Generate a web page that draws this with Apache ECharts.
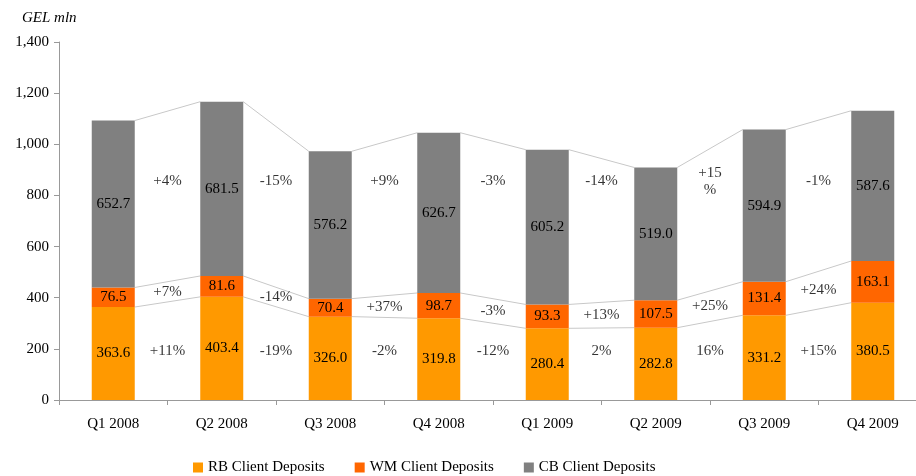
<!DOCTYPE html>
<html>
<head>
<meta charset="utf-8">
<script src="https://cdn.jsdelivr.net/npm/echarts@6/dist/echarts.min.js"></script>
<style>html,body{margin:0;padding:0;background:#fff;overflow:hidden;width:916px;height:476px}#c{width:930px;height:476px}</style>
</head>
<body>
<div id="c"></div>
<script>
const categories = ['Q1 2008','Q2 2008','Q3 2008','Q4 2008','Q1 2009','Q2 2009','Q3 2009','Q4 2009'];
const rb = [363.6, 403.4, 326.0, 319.8, 280.4, 282.8, 331.2, 380.5];
const wm = [76.5, 81.6, 70.4, 98.7, 93.3, 107.5, 131.4, 163.1];
const cb = [652.7, 681.5, 576.2, 626.7, 605.2, 519.0, 594.9, 587.6];
const rbChange = ['+11%','-19%','-2%','-12%','2%','16%','+15%'];
const wmChange = ['+7%','-14%','+37%','-3%','+13%','+25%','+24%'];
const cbChange = ['+4%','-15%','+9%','-3%','-14%','+15\n%','-1%'];
const seriesNames = ['RB Client Deposits','WM Client Deposits','CB Client Deposits'];
const unitLabel = 'GEL mln';

const FONT = '"Liberation Serif", "Times New Roman", serif';
const colors = ['#FF9900', '#FF6600', '#808080'];
const BAR_W = 43;

const lvl1 = rb.slice();
const lvl2 = rb.map((v, i) => v + wm[i]);
const lvl3 = lvl2.map((v, i) => v + cb[i]);

function connData(levels) {
  const out = [];
  for (let i = 0; i < levels.length - 1; i++) out.push([i, levels[i], levels[i + 1]]);
  return out;
}
const conn = [].concat(connData(lvl1), connData(lvl2), connData(lvl3));

const pctData = [];
for (let i = 0; i < 7; i++) {
  pctData.push([i + 1, 190, rbChange[i]]);
  pctData.push([i + 1, (lvl1[i] + lvl1[i + 1] + lvl2[i] + lvl2[i + 1]) / 4, wmChange[i]]);
  pctData.push([i + 1, 856, cbChange[i]]);
}

const chart = echarts.init(document.getElementById('c'), null, {renderer: 'canvas'});
const barSeries = [rb, wm, cb].map((d, k) => ({
  name: seriesNames[k],
  type: 'bar',
  stack: 'total',
  barWidth: BAR_W,
  data: d,
  itemStyle: {color: colors[k]},
  label: {
    show: true, position: 'inside', color: '#000',
    fontFamily: FONT, fontSize: 15,
    formatter: p => p.value.toFixed(1)
  },
  emphasis: {disabled: true},
  z: 3
}));

chart.setOption({
  animation: false,
  textStyle: {fontFamily: FONT},
  color: colors,
  grid: {left: 59, top: 42, width: 868, height: 358, containLabel: false},
  graphic: [{
    type: 'text', left: 22, top: 11,
    style: {text: unitLabel, font: 'italic 15px ' + FONT, fill: '#000'}
  }],
  legend: {
    data: seriesNames,
    left: 188, top: 455,
    icon: 'rect', itemWidth: 10, itemHeight: 10, itemGap: 30,
    textStyle: {fontFamily: FONT, fontSize: 15, color: '#000'},
    selectedMode: false
  },
  xAxis: [{
    type: 'category',
    data: categories,
    axisLine: {lineStyle: {color: '#999'}},
    axisTick: {show: true, alignWithLabel: false, length: 5, lineStyle: {color: '#999'}},
    axisLabel: {color: '#000', fontFamily: FONT, fontSize: 15, margin: 17}
  }, {
    type: 'value', min: 0, max: 8, show: false
  }],
  yAxis: {
    type: 'value', min: 0, max: 1400, interval: 200,
    axisLine: {show: true, lineStyle: {color: '#999'}},
    axisTick: {show: true, length: 5, lineStyle: {color: '#999'}},
    splitLine: {show: false},
    axisLabel: {
      color: '#000', fontFamily: FONT, fontSize: 15, margin: 10,
      formatter: v => v.toLocaleString('en-US')
    }
  },
  series: barSeries.concat([{
    type: 'custom',
    data: conn,
    encode: {x: 0, y: [1, 2]},
    z: 2,
    silent: true,
    renderItem: function (params, api) {
      const i = api.value(0);
      const a = api.coord([i, api.value(1)]);
      const b = api.coord([i + 1, api.value(2)]);
      return {
        type: 'line',
        shape: {x1: a[0] + BAR_W / 2, y1: a[1], x2: b[0] - BAR_W / 2, y2: b[1]},
        style: {stroke: '#c8c8c8', lineWidth: 1}
      };
    }
  }, {
    type: 'scatter',
    xAxisIndex: 1,
    data: pctData,
    symbolSize: 0,
    silent: true,
    label: {
      show: true, position: 'inside', color: '#000',
      fontFamily: FONT, fontSize: 15, lineHeight: 17,
      formatter: p => p.value[2]
    },
    z: 4
  }])
});
</script>
</body>
</html>
